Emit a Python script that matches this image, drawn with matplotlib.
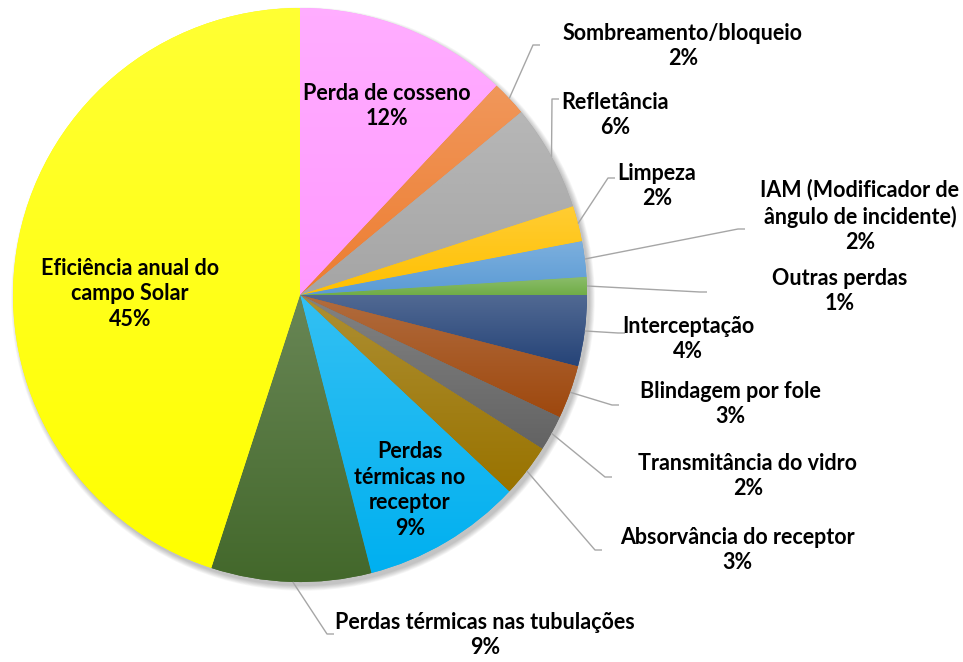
"""Pie chart: annual efficiency of the solar field and its losses."""

import numpy as np
import matplotlib
matplotlib.use("Agg")
import matplotlib.pyplot as plt
from matplotlib.colors import to_rgb
from matplotlib.patches import Circle

labels = [
    "Perda de cosseno",
    "Sombreamento/bloqueio",
    "Refletância",
    "Limpeza",
    "IAM (Modificador de\nângulo de incidente)",
    "Outras perdas",
    "Interceptação",
    "Blindagem por fole",
    "Transmitância do vidro",
    "Absorvância do receptor",
    "Perdas\ntérmicas no\nreceptor",
    "Perdas térmicas nas tubulações",
    "Eficiência anual do\ncampo Solar",
]
values = [12, 2, 6, 2, 2, 1, 4, 3, 2, 3, 9, 9, 45]
colors = [
    "#FF99FF", "#ED7D31", "#A5A5A5", "#FFC000", "#5B9BD5", "#70AD47",
    "#264478", "#9E480E", "#636363", "#997300", "#00B0F0", "#43682B",
    "#FFFF00",
]

W, H = 963, 662
CX, CY, R = 300, H - 295, 287

# label anchor (text centre) and leader elbow, in pixels from the top-left
label_pos = {
    0: (387, 106, None),
    1: (683, 46, (533, 45)),
    2: (615, 115, (552, 99)),
    3: (657, 186, (608, 178)),
    4: (860, 216, (738, 229)),
    5: (840, 291, (700, 292)),
    6: (688, 339, (618, 333)),
    7: (730, 404, (612, 405)),
    8: (748, 476, (605, 477)),
    9: (737, 550, (595, 550)),
    10: (410, 490, None),
    11: (485, 635, (327, 634)),
    12: (130, 294, None),
}
leader_frac = {11: 0.504}  # where the leader leaves the pie (fraction of turn)

plt.rcParams["font.family"] = ["Lato", "DejaVu Sans"]

fig = plt.figure(figsize=(W / 100, H / 100), dpi=100)
ax = fig.add_axes([0, 0, 1, 1])

# soft drop shadow
for i in range(7):
    ax.add_patch(Circle((CX + 3, CY - 4), R + i * 0.8, color="black",
                        alpha=0.035, lw=0, zorder=0))

wedges, _ = ax.pie(values, colors=colors, startangle=90, counterclock=False,
                   center=(CX, CY), radius=R, frame=True,
                   wedgeprops=dict(linewidth=0, zorder=1))

# vertical gradient on each slice, lighter at the top
for w, c in zip(wedges, colors):
    verts = w.get_patch_transform().transform(w.get_path().vertices)
    x0, y0 = verts.min(axis=0)
    x1, y1 = verts.max(axis=0)
    base = np.array(to_rgb(c))
    t = np.linspace(0, 1, 64)[:, None]
    light = base + (1 - base) * 0.2
    grad = base * (1 - t) + light * t
    im = ax.imshow(grad[:, None, :], extent=[x0, x1, y0, y1], origin="lower",
                   aspect="auto", interpolation="bilinear", zorder=2)
    im.set_clip_path(w)

total = sum(values)
cum = np.cumsum([0] + values)
for i, (lab, v) in enumerate(zip(labels, values)):
    tx, ty, elbow = label_pos[i]
    ax.text(tx, H - ty, f"{lab}\n{v}%", ha="center", va="center",
            fontsize=15.5, fontweight="bold", linespacing=1.27, zorder=5)
    if elbow is None:
        continue
    frac = leader_frac.get(i, (cum[i] + v / 2) / total)
    ang = 2 * np.pi * frac
    sx, sy = CX + R * np.sin(ang), CY + R * np.cos(ang)
    ex, ey = elbow[0], H - elbow[1]
    ax.plot([sx, ex, ex + 7], [sy, ey, ey], color="#A6A6A6", lw=1.0,
            zorder=4, solid_capstyle="butt")

ax.set_xlim(0, W)
ax.set_ylim(0, H)
ax.set_aspect("equal")
ax.axis("off")

fig.savefig("out.png", dpi=100)
